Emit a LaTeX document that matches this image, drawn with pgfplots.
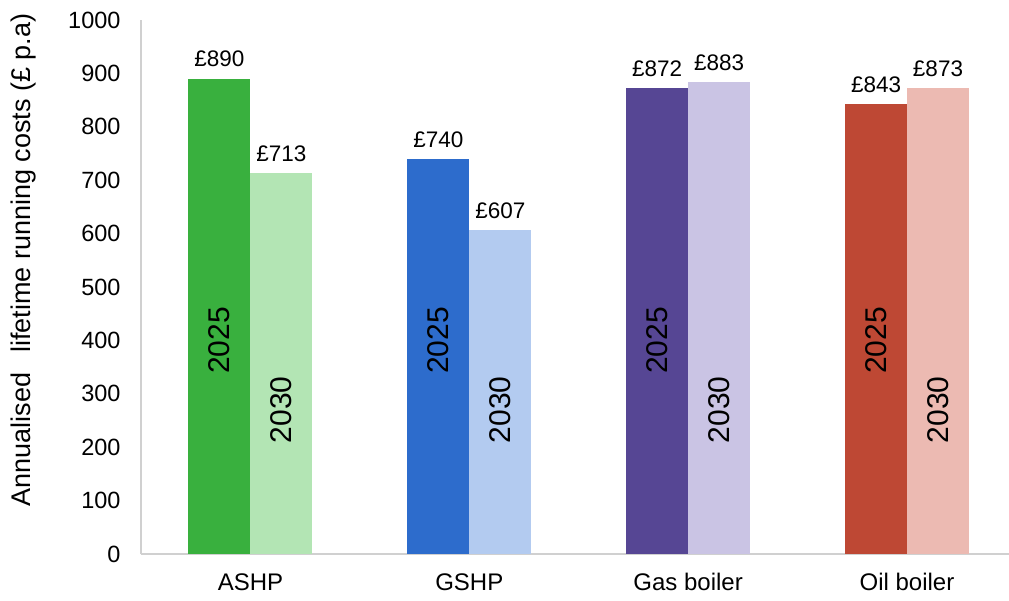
\documentclass[border=0pt]{standalone}
\usepackage{pgfplots}
\pgfplotsset{compat=1.18}
\usepackage{fontspec}
\setmainfont{Liberation Sans}

\definecolor{ashpA}{RGB}{57,176,62}
\definecolor{ashpB}{RGB}{179,229,180}
\definecolor{gshpA}{RGB}{45,108,204}
\definecolor{gshpB}{RGB}{179,203,240}
\definecolor{gasA}{RGB}{86,70,148}
\definecolor{gasB}{RGB}{202,196,228}
\definecolor{oilA}{RGB}{190,72,52}
\definecolor{oilB}{RGB}{236,186,178}
\definecolor{axisgray}{RGB}{208,208,208}

\pgfplotsset{onebar/.style={ybar, bar width=0.283, bar shift=0pt, fill=#1, draw=none}}
\tikzset{yr/.style={rotate=90, font=\fontsize{30}{32}\selectfont}}

\begin{document}
\begin{tikzpicture}
  \begin{axis}[
      at={(141pt,46pt)}, anchor=south west,
      scale only axis,
      width=868pt, height=534pt,
      xmin=-0.5, xmax=3.466,
      ymin=0, ymax=1000,
      axis x line*=bottom, axis y line*=left,
      axis line style={draw=axisgray, line width=1.5pt},
      major tick length=0pt,
      ytick={0,100,...,1000},
      xtick={0,1,2,3},
      xticklabels={ASHP, GSHP, Gas boiler, Oil boiler},
      /pgf/number format/assume math mode=true,
      /pgf/number format/1000 sep={},
      yticklabel style={font=\fontsize{23.5}{26}\selectfont, xshift=-17pt},
      xticklabel style={font=\fontsize{24}{28}\selectfont, yshift=-16pt},
      ylabel={Annualised\hspace{20pt}lifetime running costs (£ p.a)},
      ylabel style={font=\fontsize{27}{30}\selectfont, at={(axis description cs:-0.1348,0.5506)}, anchor=center},
      point meta=explicit symbolic,
      nodes near coords,
      nodes near coords style={font=\fontsize{22.5}{24}\selectfont, yshift=8pt},
      clip=false,
    ]
    % 2025 bars
    \addplot[onebar=ashpA] coordinates {(-0.1416,890) [£890]};
    \addplot[onebar=gshpA] coordinates {(0.8584,740) [£740]};
    \addplot[onebar=gasA]  coordinates {(1.8584,872) [£872]};
    \addplot[onebar=oilA]  coordinates {(2.8584,843) [£843]};
    % 2030 bars
    \addplot[onebar=ashpB] coordinates {(0.1416,713) [£713]};
    \addplot[onebar=gshpB] coordinates {(1.1416,607) [£607]};
    \addplot[onebar=gasB]  coordinates {(2.1416,883) [£883]};
    \addplot[onebar=oilB]  coordinates {(3.1416,873) [£873]};

    \node[yr] at (axis cs:-0.1416,400) {2025};
    \node[yr] at (axis cs:0.8584,400) {2025};
    \node[yr] at (axis cs:1.8584,400) {2025};
    \node[yr] at (axis cs:2.8584,400) {2025};
    \node[yr] at (axis cs:0.1416,270) {2030};
    \node[yr] at (axis cs:1.1416,270) {2030};
    \node[yr] at (axis cs:2.1416,270) {2030};
    \node[yr] at (axis cs:3.1416,270) {2030};
  \end{axis}
  \pgfresetboundingbox
  \path (0,0) rectangle (1009pt,600pt);
\end{tikzpicture}
\end{document}
